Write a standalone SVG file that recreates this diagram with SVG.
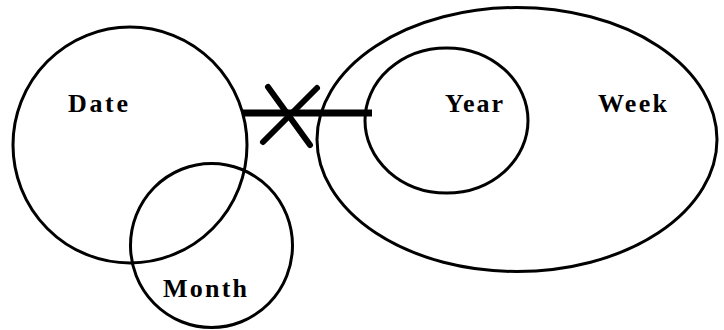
<svg xmlns="http://www.w3.org/2000/svg" width="724" height="330" viewBox="0 0 724 330">
<style>
.s{fill:none;stroke:#000;stroke-width:3}
.t{font-family:"Liberation Serif","Times New Roman",serif;font-weight:bold;font-size:26px;fill:#000}
</style>
<rect width="724" height="330" fill="#fff"/>
<g id="date"><ellipse class="s" cx="130" cy="145" rx="117" ry="118"/><text class="t" x="68" y="112" textLength="60" lengthAdjust="spacing">Date</text></g>
<g id="month"><ellipse class="s" cx="211.5" cy="245.5" rx="81" ry="82"/><text class="t" x="163" y="297" textLength="84" lengthAdjust="spacing">Month</text></g>
<g id="week"><ellipse class="s" cx="517" cy="139.5" rx="200" ry="132"/><text class="t" x="598" y="112" textLength="69" lengthAdjust="spacing">Week</text></g>
<g id="year"><ellipse class="s" cx="446.5" cy="120.5" rx="81.5" ry="72.5"/><text class="t" x="445" y="112" textLength="58" lengthAdjust="spacing">Year</text></g>
<g id="connectors">
<line x1="242" y1="113" x2="372" y2="113" stroke="#000" stroke-width="7"/>
<line x1="268" y1="87" x2="310" y2="145" stroke="#000" stroke-width="6" stroke-linecap="round"/>
<line x1="317" y1="88" x2="263" y2="142" stroke="#000" stroke-width="6" stroke-linecap="round"/>
</g>
</svg>
